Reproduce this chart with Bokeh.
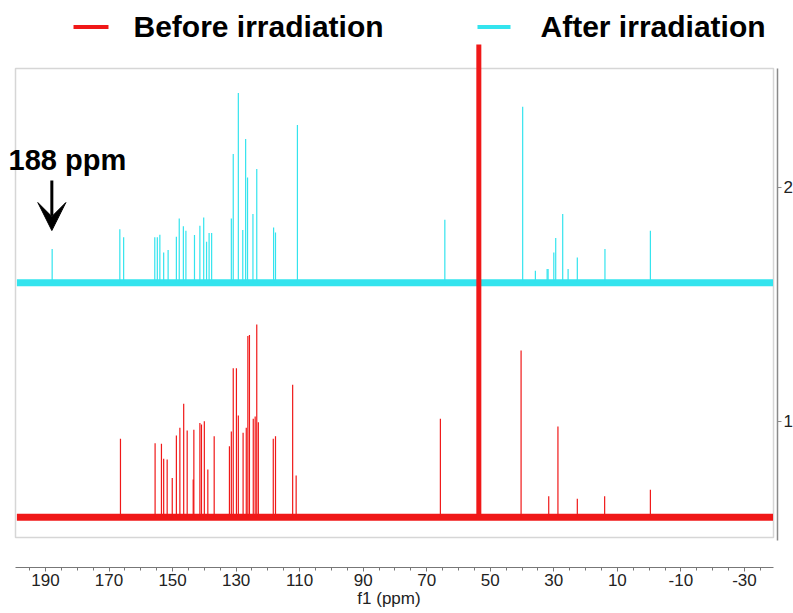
from bokeh.plotting import figure
from bokeh.models import Range1d, FixedTicker, Arrow, VeeHead
from bokeh.core.properties import value
from bokeh.embed import file_html
from bokeh.resources import INLINE

# ---------------- data ----------------
series_names = ["Before irradiation", "After irradiation"]

# Before irradiation (red) peaks: chemical shift (ppm) and peak height (axis units)
before_ppm = [166.4, 155.5, 153.5, 152.8, 151.7, 150.1, 148.8, 147.7, 146.5, 145.4,
              143.5, 143.3, 141.4, 140.9, 140.0, 138.9, 136.9, 132.1, 131.5, 130.9,
              129.9, 129.3, 127.8, 126.8, 126.3, 125.8, 124.6, 124.0, 123.5, 123.0,
              118.3, 117.6, 112.2, 111.1, 65.7, 40.3, 31.6, 28.7, 22.6, 14.0, -0.4]
before_height = [0.335, 0.316, 0.314, 0.250, 0.247, 0.168, 0.349, 0.382, 0.485, 0.371,
                 0.161, 0.374, 0.402, 0.396, 0.410, 0.204, 0.346, 0.303, 0.366, 0.637,
                 0.637, 0.435, 0.361, 0.382, 0.774, 0.779, 0.421, 0.430, 0.824, 0.406,
                 0.335, 0.346, 0.566, 0.178, 0.421, 0.712, 0.090, 0.388, 0.079, 0.090, 0.117]

# solvent signal of the "before" spectrum
solvent_ppm = [53.6]
solvent_height = [2.02]

# After irradiation (cyan) peaks
after_ppm = [187.9, 166.6, 165.4, 155.6, 154.8, 154.0, 152.8, 151.4, 148.8, 147.9,
             146.6, 145.8, 143.1, 141.4, 140.2, 139.3, 138.5, 137.7, 131.5, 130.9,
             129.3, 127.9, 127.0, 126.4, 124.7, 123.5, 118.2, 117.6, 110.7, 64.3,
             39.8, 35.8, 32.1, 31.8, 30.0, 29.4, 27.2, 25.5, 22.6, 13.9, -0.4]
after_height = [0.144, 0.229, 0.194, 0.194, 0.194, 0.205, 0.129, 0.140, 0.197, 0.275,
                0.241, 0.222, 0.204, 0.244, 0.279, 0.175, 0.212, 0.212, 0.275, 0.550,
                0.811, 0.225, 0.614, 0.450, 0.294, 0.486, 0.236, 0.215, 0.674, 0.269,
                0.752, 0.051, 0.059, 0.059, 0.129, 0.191, 0.294, 0.059, 0.108, 0.144, 0.222]

# vertical offsets of the stacked spectra and spectral window
before_offset = 0.591
after_offset = 1.593
spectrum_ppm_start = 199.0
spectrum_ppm_end = -39.0

x_tick_labels = [190, 170, 150, 130, 110, 90, 70, 50, 30, 10, -10, -30]
x_minor_ticks = list(range(195, -40, -5))
y_tick_labels = [1, 2]
x_axis_title = "f1 (ppm)"
annotation_ppm = 188
annotation_text = "188 ppm"

# ---------------- styling ----------------
RED = "#f01818"
CYAN = "#33e4ee"
FONT = "Liberation Sans"

p = figure(frame_width=777, frame_height=567,
           x_range=Range1d(204.16, -40.41), y_range=Range1d(0.376, 2.7991),
           output_backend="svg", toolbar_location=None,
           y_axis_location="right", x_axis_location="below",
           min_border_left=0, min_border_top=0, min_border_right=16, min_border_bottom=46)
p.outline_line_color = None
p.xgrid.visible = False
p.ygrid.visible = False
p.background_fill_color = "white"
p.border_fill_color = "white"

# inner spectrum box
p.quad(left=[199.44], right=[-39.15], bottom=[0.504], top=[2.5085],
       fill_color=None, line_color="#d6d6d6", line_width=1.5)

# after irradiation (cyan)
p.segment(x0=[spectrum_ppm_start], y0=[after_offset], x1=[spectrum_ppm_end], y1=[after_offset],
          line_color=CYAN, line_width=7)
p.segment(x0=after_ppm, y0=[after_offset] * len(after_ppm), x1=after_ppm,
          y1=[after_offset + h for h in after_height], line_color=CYAN, line_width=1.2)

# before irradiation (red)
p.segment(x0=[spectrum_ppm_start], y0=[before_offset], x1=[spectrum_ppm_end], y1=[before_offset],
          line_color=RED, line_width=7)
p.segment(x0=before_ppm, y0=[before_offset] * len(before_ppm), x1=before_ppm,
          y1=[before_offset + h for h in before_height], line_color=RED, line_width=1.2)
p.segment(x0=solvent_ppm, y0=[before_offset] * len(solvent_ppm), x1=solvent_ppm,
          y1=[before_offset + h for h in solvent_height], line_color=RED, line_width=5)

# legend (drawn at top)
p.segment(x0=[181.18], y0=[2.686], x1=[170.17], y1=[2.686], line_color=RED, line_width=4)
p.segment(x0=[54.02], y0=[2.686], x1=[43.63], y1=[2.686], line_color=CYAN, line_width=4)
p.text(x=[162.3, 34.18], y=[2.686, 2.686], text=series_names,
       text_font=value(FONT), text_font_style="bold", text_font_size="30px",
       text_baseline="middle", text_align="left", text_color="black")

# annotation
p.text(x=[201.64], y=[2.1154], text=[annotation_text],
       text_font=value(FONT), text_font_style="bold", text_font_size="29px",
       text_baseline="middle", text_align="left", text_color="black")
p.add_layout(Arrow(x_start=annotation_ppm, y_start=2.030, x_end=annotation_ppm, y_end=1.816,
                   line_width=3, line_color="black",
                   end=VeeHead(size=28, fill_color="black", line_color="black")))

# bottom axis
xa = p.xaxis[0]
xa.ticker = FixedTicker(ticks=x_tick_labels, minor_ticks=x_minor_ticks)
xa.major_label_overrides = {t: str(t) for t in x_tick_labels}
xa.bounds = (-39.15, 199.44)
xa.axis_line_color = "#777777"
xa.major_tick_line_color = "#777777"
xa.minor_tick_line_color = "#777777"
xa.major_tick_in = 0
xa.major_tick_out = 4
xa.minor_tick_in = 0
xa.minor_tick_out = 3
xa.major_label_text_font = FONT
xa.major_label_text_font_size = "17px"
xa.major_label_text_color = "#222222"
xa.major_label_standoff = 2
xa.axis_label = x_axis_title
xa.axis_label_text_font = FONT
xa.axis_label_text_font_size = "17px"
xa.axis_label_text_font_style = "normal"
xa.axis_label_text_color = "#222222"
xa.axis_label_standoff = 0

# right axis
ya = p.yaxis[0]
ya.ticker = FixedTicker(ticks=y_tick_labels, minor_ticks=[])
ya.bounds = (0.49, 2.51)
ya.axis_line_color = "#8a8a8a"
ya.axis_line_width = 1.5
ya.major_tick_line_color = "#8a8a8a"
ya.major_tick_in = 0
ya.major_tick_out = 4
ya.minor_tick_out = 0
ya.major_label_text_font = FONT
ya.major_label_text_font_size = "17px"
ya.major_label_text_color = "#222222"
ya.major_label_standoff = 2

open("out.html", "w").write(file_html(p, INLINE))
